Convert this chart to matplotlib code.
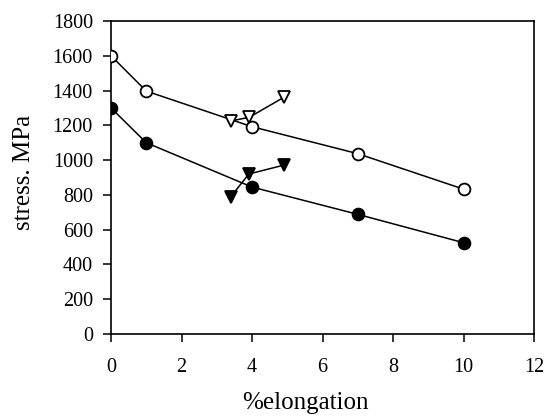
import matplotlib
matplotlib.use("Agg")
import matplotlib.pyplot as plt

# elongation (%) and stress (MPa)
elong = [0, 1, 4, 7, 10]
stress_open = [1600, 1397, 1192, 1037, 833]
stress_filled = [1300, 1100, 845, 688, 525]

tri_open_x = [3.40, 3.92, 4.92]
tri_open_y = [1225, 1246, 1363]
tri_filled_x = [3.40, 3.91, 4.92]
tri_filled_y = [790, 920, 972]

xticks = [0, 2, 4, 6, 8, 10, 12]
yticks = [0, 200, 400, 600, 800, 1000, 1200, 1400, 1600, 1800]

plt.rcParams["font.family"] = ["Liberation Serif", "DejaVu Serif"]

fig = plt.figure(figsize=(5.49, 4.19), dpi=100)
ax = fig.add_axes([0.2022, 0.2029, 0.7705, 0.7470])

lw = 1.1
ax.plot(elong, stress_open, color="black", lw=lw, marker="o", ms=8.5,
        mfc="white", mec="black", mew=1.3, zorder=3)
ax.plot(elong, stress_filled, color="black", lw=lw, marker="o", ms=8.5,
        mfc="black", mec="black", mew=1.3, zorder=3)
ax.plot(tri_open_x, tri_open_y, color="black", lw=lw, marker="v", ms=9,
        mfc="white", mec="black", mew=1.3, zorder=4)
ax.plot(tri_filled_x, tri_filled_y, color="black", lw=lw, marker="v", ms=9,
        mfc="black", mec="black", mew=1.3, zorder=4)

ax.set_xlim(0, 12)
ax.set_ylim(0, 1800)
ax.set_xticks(xticks)
ax.set_yticks(yticks)
ax.tick_params(axis="both", direction="out", length=6, width=1.1,
               labelsize=14.5)
ax.tick_params(axis="x", pad=11)
ax.tick_params(axis="y", pad=7)
for s in ax.spines.values():
    s.set_linewidth(1.2)

ax.set_xlabel("%elongation", fontsize=18)
ax.xaxis.set_label_coords(0.46, -0.185)
ax.set_ylabel("stress. MPa", fontsize=18)
ax.yaxis.set_label_coords(-0.18, 0.515)

fig.savefig("out.png", dpi=100)
